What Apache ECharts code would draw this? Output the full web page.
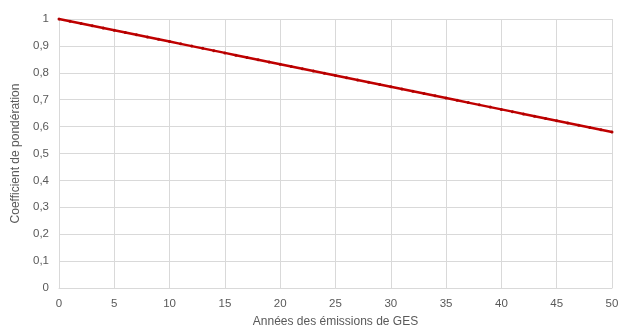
<!DOCTYPE html>
<html lang="fr">
<head>
    <meta charset="UTF-8">
    <title>Coefficient de pondération</title>
    <script src="https://cdn.jsdelivr.net/npm/echarts@6/dist/echarts.min.js"></script>
    <style>
        html, body { margin: 0; padding: 0; background: #fff; }
        #main { width: 619px; height: 327px; }
    </style>
</head>
<body>
    <div id="main"></div>
    <script>
        // années 0..50
        var years = [];
        for (var i = 0; i <= 50; i++) years.push(i);

        // coefficient
        var coefs = [
            1, 0.9916, 0.9832, 0.9748, 0.9664, 0.958, 0.9496, 0.9412, 0.9328, 0.9244,
            0.916, 0.9076, 0.8992, 0.8908, 0.8824, 0.874, 0.8656, 0.8572, 0.8488, 0.8404,
            0.832, 0.8236, 0.8152, 0.8068, 0.7984, 0.79, 0.7816, 0.7732, 0.7648, 0.7564,
            0.748, 0.7396, 0.7312, 0.7228, 0.7144, 0.706, 0.6976, 0.6892, 0.6808, 0.6724,
            0.664, 0.6556, 0.6472, 0.6388, 0.6304, 0.622, 0.6136, 0.6052, 0.5968, 0.5884,
            0.58
        ];

        var chart = echarts.init(document.getElementById('main'));

        var fmt = function (v) { return String(Math.round(v * 10) / 10).replace('.', ','); };
        var txt = { color: '#595959', fontSize: 11.5, fontFamily: 'Liberation Sans, Arial, sans-serif' };
        var nameTxt = { color: '#595959', fontSize: 12, fontFamily: 'Liberation Sans, Arial, sans-serif' };

        chart.setOption({
            animation: false,
            grid: { left: 59, right: 7, top: 19, bottom: 39, outerBoundsMode: 'none' },
            xAxis: {
                type: 'value',
                min: 0, max: 50, interval: 5,
                name: 'Années des émissions de GES',
                nameLocation: 'middle',
                nameGap: 28,
                nameTextStyle: nameTxt,
                axisLine: { show: true, lineStyle: { color: '#d9d9d9' } },
                axisTick: { show: false },
                axisLabel: Object.assign({ margin: 10 }, txt),
                splitLine: { show: true, lineStyle: { color: '#d9d9d9' } }
            },
            yAxis: {
                type: 'value',
                min: 0, max: 1, interval: 0.1,
                name: 'Coefficient de pondération',
                nameLocation: 'middle',
                nameGap: 34,
                nameTextStyle: nameTxt,
                axisLine: { show: true, lineStyle: { color: '#d9d9d9' } },
                axisTick: { show: false },
                axisLabel: Object.assign({ margin: 10, formatter: fmt }, txt),
                splitLine: { show: true, lineStyle: { color: '#d9d9d9' } }
            },
            series: [{
                type: 'line',
                data: years.map(function (y, i) { return [y, coefs[i]]; }),
                symbol: 'circle',
                symbolSize: 3,
                showSymbol: true,
                itemStyle: { color: '#b00000' },
                lineStyle: { color: '#c00000', width: 2.5 }
            }]
        });
    </script>
</body>
</html>
